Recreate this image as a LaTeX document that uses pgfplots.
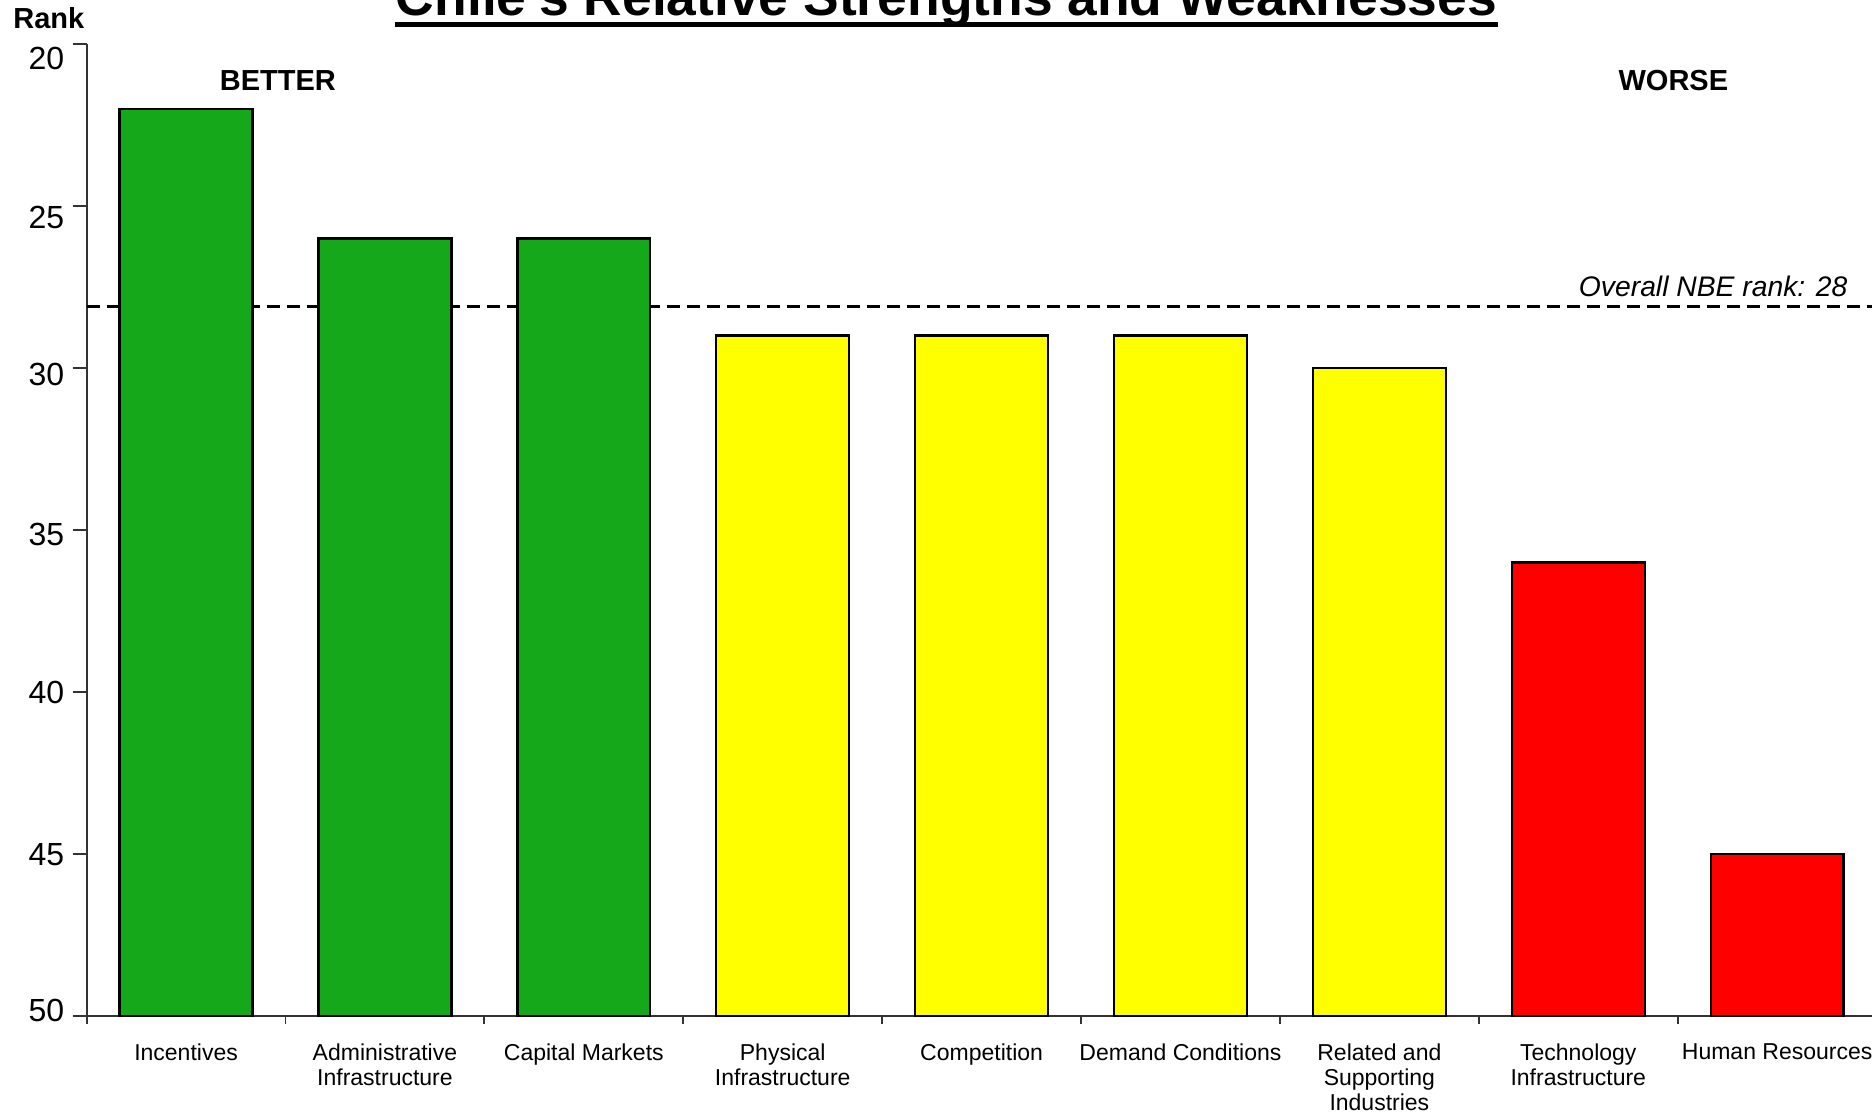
\documentclass[border=0pt]{standalone}
\usepackage{fontspec}
\setmainfont{Liberation Sans}
\usepackage{pgfplots}
\pgfplotsset{compat=1.18}
\definecolor{cgreen}{RGB}{20,168,26}
\definecolor{cyellow}{RGB}{255,255,0}
\definecolor{cred}{RGB}{255,0,0}
\newcommand\rankbar[3]{%
  \pgfmathsetmacro\xl{#1-0.334}\pgfmathsetmacro\xr{#1+0.334}%
  \edef\temp{\noexpand\addplot[fill=#3,draw=black,line width=1.2pt] coordinates {(\xl,50) (\xl,#2) (\xr,#2) (\xr,50)} --cycle;}%
  \temp}
\begin{document}
\begin{tikzpicture}
\useasboundingbox (0,0) rectangle (936pt,-557.5pt);
\begin{axis}[
  at={(43.3pt,-508pt)}, anchor=south west,
  scale only axis, width=895pt, height=486pt,
  xmin=-0.5, xmax=8.5, ymin=20, ymax=50, y dir=reverse,
  axis x line*=bottom, axis y line*=left,
  axis line style={-, black!80, line width=0.9pt},
  clip=false,
  ytick={20,25,...,50},
  yticklabels={\raisebox{-7.2pt}{20},\raisebox{-5.4pt}{25},\raisebox{-3pt}{30},\raisebox{-1.8pt}{35},40,45,\raisebox{3pt}{50}},
  xtick={0,...,8},
  xticklabels={Incentives,{Administrative\\Infrastructure},Capital Markets,{Physical\\Infrastructure},Competition,Demand Conditions,{Related and\\Supporting\\Industries},{Technology\\Infrastructure},Human Resources},
  minor xtick={-0.5,0.5,...,7.5},
  tick align=outside,
  major x tick style={draw=none},
  minor x tick style={black!80, line width=0.9pt},
  minor tick length=4pt,
  major tick length=7pt,
  y tick style={black!80, line width=0.9pt},
  yticklabel style={font=\fontsize{16}{16}\selectfont, anchor=base east, inner sep=0pt, xshift=-4pt, yshift=-5.7pt},
  xticklabel style={font=\fontsize{11.5}{12.5}\selectfont, align=center, anchor=north, inner sep=0pt, yshift=-6.5pt},
]
\addplot[black, line width=1.3pt, dash pattern=on 6.5pt off 3.5pt] coordinates {(-0.5,28.1) (8.5,28.1)};
\rankbar{0}{22}{cgreen}
\rankbar{1}{26}{cgreen}
\rankbar{2}{26}{cgreen}
\rankbar{3}{29}{cyellow}
\rankbar{4}{29}{cyellow}
\rankbar{5}{29}{cyellow}
\rankbar{6}{30}{cyellow}
\rankbar{7}{36}{cred}
\rankbar{8}{45}{cred}
\node[anchor=base east, font=\itshape\fontsize{14.15}{14.15}\selectfont, inner sep=0pt, yshift=5pt] at (axis cs:8.355,28.1) {Overall NBE rank: 28};
\node[anchor=base, font=\bfseries\fontsize{14.5}{14.5}\selectfont, inner sep=0pt] at (axis cs:0.462,21.42) {BETTER};
\node[anchor=base, font=\bfseries\fontsize{14.5}{14.5}\selectfont, inner sep=0pt] at (axis cs:7.478,21.42) {WORSE};
\end{axis}
\node[anchor=base west, font=\bfseries\fontsize{14.5}{14.5}\selectfont, inner sep=0pt] at (6.5pt,-14.25pt) {Rank};
\node[anchor=base, font=\bfseries\fontsize{26.7}{26.7}\selectfont, inner sep=0pt] at (473.25pt,-7.5pt) {Chile's Relative Strengths and Weaknesses};
\fill (197.5pt,-10.85pt) rectangle (749pt,-13.35pt);
\end{tikzpicture}
\end{document}
